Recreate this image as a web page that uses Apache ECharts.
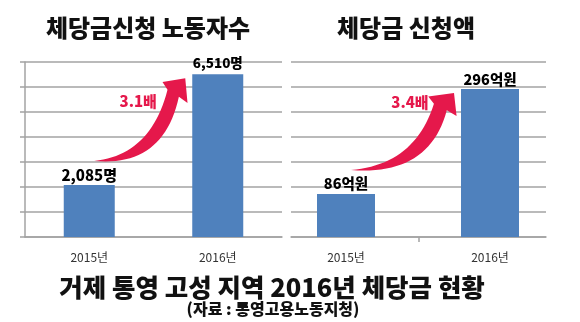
<!DOCTYPE html>
<html>
<head>
<meta charset="utf-8">
<script src="https://cdn.jsdelivr.net/npm/echarts@6/dist/echarts.min.js"></script>
<style>
  html, body { margin: 0; padding: 0; background: #fff; }
  #chart { width: 580px; height: 322px; }
</style>
</head>
<body>
<div id="chart"></div>
<script>
// ---- data ----
const years = ['2015년', '2016년'];
const workers = [2085, 6510];          // 체당금 신청 노동자 수 (명)
const amounts = [86, 296];             // 체당금 신청액 (억원)
const growthLabels = ['3.1배', '3.4배'];
const panelTitles = ['체당금신청 노동자수', '체당금 신청액'];
const mainTitle = '거제 통영 고성 지역 2016년 체당금 현황';
const sourceNote = '(자료 : 통영고용노동지청)';
const workerUnit = '명';
const amountUnit = '억원';
const workerScale = { min: 0, max: 7000, interval: 1000 };
const amountScale = { min: 0, max: 350, interval: 50 };

// ---- styles ----
const FONT = '"Noto Sans CJK KR", "Noto Sans", sans-serif';
const BAR = '#4f81bd';
const RED = '#e5184b';
const GRID_LINE = '#a3a3a3';
const workerLabelStyle = [{ fontSize: 15, distance: 2 }, { fontSize: 13.5, distance: 5 }];
const amountLabelStyle = [{ fontSize: 14.5, distance: 3 }, { fontSize: 14.5, distance: 2 }];

const chart = echarts.init(document.getElementById('chart'), null, { renderer: 'canvas' });

const lineStyle = { color: GRID_LINE, width: 1.5 };
const catLabel = { margin: 14, fontSize: 12, color: '#333', fontFamily: FONT };

function barLabel(unit) {
  return {
    show: true,
    position: 'top',
    fontWeight: 900,
    color: '#000',
    fontFamily: FONT,
    formatter: p => Number(p.value).toLocaleString('en-US') + unit
  };
}

chart.setOption({
  animation: false,
  textStyle: { fontFamily: FONT },
  grid: [
    { left: 25, right: 298, top: 62, bottom: 85 },   // 노동자수
    { left: 291, right: 34, top: 62, bottom: 85 },   // 신청액 눈금선
    { left: 274, right: 18, top: 62, bottom: 85 }    // 신청액 막대
  ],
  xAxis: [
    {
      gridIndex: 0, type: 'category', data: years,
      axisLine: { lineStyle },
      axisTick: { length: 5, lineStyle },
      axisLabel: catLabel
    },
    {
      gridIndex: 1, type: 'category', boundaryGap: false, data: ['', '', ''],
      axisLine: { lineStyle },
      axisTick: { length: 5, lineStyle, interval: i => i === 1 },
      axisLabel: { show: false }
    },
    {
      gridIndex: 2, type: 'category', data: years,
      axisLine: { show: false },
      axisTick: { show: false },
      axisLabel: catLabel
    }
  ],
  yAxis: [
    {
      gridIndex: 0, type: 'value', ...workerScale,
      axisLine: { show: true, lineStyle },
      axisTick: { show: true, length: 5, lineStyle },
      axisLabel: { show: false },
      splitLine: { lineStyle }
    },
    {
      gridIndex: 1, type: 'value', ...amountScale,
      axisLine: { show: false },
      axisTick: { show: false },
      axisLabel: { show: false },
      splitLine: { lineStyle }
    },
    {
      gridIndex: 2, type: 'value', ...amountScale, show: false
    }
  ],
  series: [
    {
      type: 'bar', xAxisIndex: 0, yAxisIndex: 0, barWidth: 51,
      itemStyle: { color: BAR },
      label: barLabel(workerUnit),
      data: workers.map((v, i) => ({ value: v, label: workerLabelStyle[i] }))
    },
    {
      type: 'bar', xAxisIndex: 2, yAxisIndex: 2, barWidth: 58,
      itemStyle: { color: BAR },
      label: barLabel(amountUnit),
      data: amounts.map((v, i) => ({ value: v, label: amountLabelStyle[i] }))
    }
  ]
});

// ---- swoosh arrows between the two bars of each panel ----
// Outline in a frame where (0,0) is the tail and (1,1) is the tip.
const ARROW = {
  upperCtrl: [0.62, 0.07], neckL: [0.805, 0.86],
  headL: [0.75, 0.955], tip: [1, 1], headR: [1.025, 0.70],
  neckR: [0.93, 0.775], lowerCtrl: [0.76, -0.08]
};

function arrowPoints(T, P) {
  const dx = P[0] - T[0], h = T[1] - P[1];
  const m = uv => [T[0] + uv[0] * dx, T[1] - uv[1] * h];
  const quad = (a, c, b, out) => {
    const n = 24;
    for (let k = 1; k <= n; k++) {
      const t = k / n, s = 1 - t;
      out.push([s * s * a[0] + 2 * s * t * c[0] + t * t * b[0],
                s * s * a[1] + 2 * s * t * c[1] + t * t * b[1]]);
    }
  };
  const pts = [m([0, 0])];
  quad(m([0, 0]), m(ARROW.upperCtrl), m(ARROW.neckL), pts);
  pts.push(m(ARROW.headL), m(ARROW.tip), m(ARROW.headR), m(ARROW.neckR));
  quad(m(ARROW.neckR), m(ARROW.lowerCtrl), m([0, 0]), pts);
  pts.pop();
  return pts;
}

const panels = [
  { series: 0, values: workers, barWidth: 51, textOffset: [-47, 23] },
  { series: 1, values: amounts, barWidth: 58, textOffset: [-44, 9] }
];

const graphics = [];
panels.forEach((pn, idx) => {
  const a = chart.convertToPixel({ seriesIndex: pn.series }, [0, pn.values[0]]);
  const b = chart.convertToPixel({ seriesIndex: pn.series }, [1, pn.values[1]]);
  const tail = [a[0] + 5, a[1] - 24];
  const tip = [b[0] - pn.barWidth / 2 - 7, b[1] + 4];
  graphics.push({
    type: 'polygon', z: 10,
    shape: { points: arrowPoints(tail, tip) },
    style: { fill: RED }
  });
  graphics.push({
    type: 'text', z: 11,
    x: tip[0] + pn.textOffset[0], y: tip[1] + pn.textOffset[1],
    style: {
      text: growthLabels[idx], fill: RED, fontSize: 15, fontWeight: 900,
      fontFamily: FONT, align: 'center', verticalAlign: 'middle'
    }
  });
});

// ---- titles ----
function label(text, x, y, size) {
  return {
    type: 'text', x, y, z: 12,
    style: {
      text, fill: '#111', fontSize: size, fontWeight: 900, fontFamily: FONT,
      align: 'center', verticalAlign: 'middle'
    }
  };
}
graphics.push(label(panelTitles[0], 148, 28, 24));
graphics.push(label(panelTitles[1], 406, 28, 24));
graphics.push(label(mainTitle, 272, 287, 25.5));
graphics.push(label(sourceNote, 273, 309, 16));

chart.setOption({ graphic: graphics });
</script>
</body>
</html>
